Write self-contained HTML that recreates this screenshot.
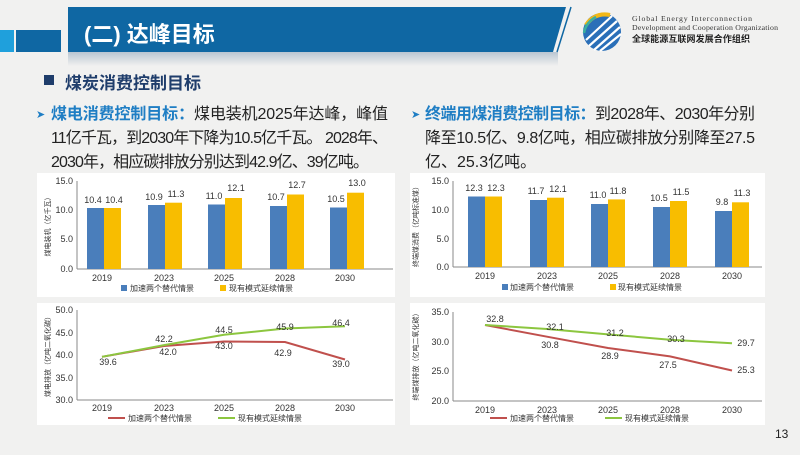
<!DOCTYPE html>
<html><head><meta charset="utf-8"><style>
body{margin:0;width:800px;height:450px;overflow:hidden;background:#f1f1f0;font-family:"Liberation Sans","Noto Sans CJK SC",sans-serif;}
</style></head><body>
<svg width="800" height="450" xmlns="http://www.w3.org/2000/svg" font-family="Liberation Sans, Noto Sans CJK SC, sans-serif">
<defs><linearGradient id="sh" x1="0" y1="0" x2="0" y2="1"><stop offset="0" stop-color="#b9c6d2"/><stop offset="1" stop-color="#f1f1f0"/></linearGradient></defs>
<rect x="68" y="52" width="490" height="14" fill="url(#sh)"/>
<rect x="0" y="30" width="14" height="22" fill="#1fa0dc"/>
<rect x="16" y="30" width="45" height="22" fill="#0f67a3"/>
<polygon points="68,7 566,7 553,52 68,52" fill="#0f67a3"/>
<line x1="557" y1="52" x2="571" y2="7" stroke="#0f67a3" stroke-width="1.5"/>
<text x="84" y="42" font-size="22" fill="#fff" font-weight="bold">(二) 达峰目标</text>
<circle cx="602" cy="32" r="19" fill="#2a6fb8"/>
<path d="M586,40 L612,16 M589,46 L617,21 M594,50 L620,27 M600,51 L621,34" stroke="#fff" stroke-width="2.2"/>
<path d="M586,25 Q595,12 610,15" stroke="#f3b818" stroke-width="4" fill="none"/>
<path d="M584,33 Q586,22 596,17" stroke="#3bb0a0" stroke-width="2.5" fill="none"/>
<text x="632" y="21" font-size="7.8" fill="#333" font-family="Liberation Serif, serif" textLength="120">Global Energy Interconnection</text>
<text x="632" y="30" font-size="7.8" fill="#333" font-family="Liberation Serif, serif" textLength="146">Development and Cooperation Organization</text>
<text x="632" y="42" font-size="9" fill="#222" font-weight="bold" textLength="118">全球能源互联网发展合作组织</text>
<rect x="44" y="75" width="10" height="10" fill="#1f3d6b"/>
<text x="65" y="89" font-size="17" fill="#1f3d6b" font-weight="bold">煤炭消费控制目标</text>
<g font-size="16" fill="#222">
<text x="36" y="118" fill="#1f7ec4" font-size="11">➤</text>
<text x="51" y="119" textLength="337"><tspan fill="#1f7ec4" font-weight="bold">煤电消费控制目标：</tspan>煤电装机2025年达峰，峰值</text>
<text x="51" y="143" textLength="337">11亿千瓦，到2030年下降为10.5亿千瓦。 2028年、</text>
<text x="51" y="167" textLength="318">2030年，相应碳排放分别达到42.9亿、39亿吨。</text>
<text x="411" y="118" fill="#1f7ec4" font-size="11">➤</text>
<text x="425" y="119" textLength="330"><tspan fill="#1f7ec4" font-weight="bold">终端用煤消费控制目标：</tspan>到2028年、2030年分别</text>
<text x="425" y="143" textLength="330">降至10.5亿、9.8亿吨，相应碳排放分别降至27.5</text>
<text x="425" y="167">亿、25.3亿吨。</text>
</g>
<rect x="37" y="173" width="358" height="124" fill="#fff"/>
<rect x="410" y="173" width="355" height="124" fill="#fff"/>
<rect x="37" y="303" width="358" height="122" fill="#fff"/>
<rect x="410" y="303" width="355" height="122" fill="#fff"/>
<g font-size="9" fill="#333">
<g text-anchor="end"><text x="73" y="184">15.0</text><text x="73" y="213">10.0</text><text x="73" y="242">5.0</text><text x="73" y="272">0.0</text></g>
<line x1="77" y1="181" x2="77" y2="269" stroke="#888"/><line x1="77" y1="269" x2="393" y2="269" stroke="#888"/>
<text transform="translate(50,225) rotate(-90)" font-size="7" text-anchor="middle">煤电装机（亿千瓦）</text>
<g fill="#4a7ebb"><rect x="87" y="208" width="17" height="61"/><rect x="148" y="205" width="17" height="64"/><rect x="208" y="204.5" width="17" height="64.5"/><rect x="270" y="206" width="17" height="63"/><rect x="330" y="207.5" width="17" height="61.5"/></g>
<g fill="#f8bd00"><rect x="104" y="208" width="17" height="61"/><rect x="165" y="202.7" width="17" height="66.3"/><rect x="225" y="198" width="17" height="71"/><rect x="287" y="194.5" width="17" height="74.5"/><rect x="347" y="192.7" width="17" height="76.3"/></g>
<g text-anchor="middle"><text x="93" y="203">10.4</text><text x="114" y="203">10.4</text><text x="154" y="200">10.9</text><text x="176" y="197">11.3</text><text x="214" y="199">11.0</text><text x="236" y="191">12.1</text><text x="276" y="200">10.7</text><text x="297" y="188">12.7</text><text x="336" y="202">10.5</text><text x="357" y="186">13.0</text>
<text x="102" y="281">2019</text><text x="164" y="281">2023</text><text x="224" y="281">2025</text><text x="285" y="281">2028</text><text x="345" y="281">2030</text></g>
<rect x="121" y="285" width="6" height="6" fill="#4a7ebb"/><text x="130" y="291" font-size="8">加速两个替代情景</text>
<rect x="220" y="285" width="6" height="6" fill="#f8bd00"/><text x="229" y="291" font-size="8">现有模式延续情景</text>
<g text-anchor="end"><text x="449" y="184">15.0</text><text x="449" y="213">10.0</text><text x="449" y="242">5.0</text><text x="449" y="270">0.0</text></g>
<line x1="453" y1="181" x2="453" y2="267" stroke="#888"/><line x1="453" y1="267" x2="762" y2="267" stroke="#888"/>
<text transform="translate(418,225) rotate(-90)" font-size="7" text-anchor="middle">终端煤消费（亿吨标准煤）</text>
<g fill="#4a7ebb"><rect x="468" y="196.5" width="17" height="70.5"/><rect x="530" y="200" width="17" height="67"/><rect x="591" y="204" width="17" height="63"/><rect x="653" y="207" width="17" height="60"/><rect x="715" y="211" width="17" height="56"/></g>
<g fill="#f8bd00"><rect x="485" y="196.5" width="17" height="70.5"/><rect x="547" y="197.7" width="17" height="69.3"/><rect x="608" y="199.4" width="17" height="67.6"/><rect x="670" y="201" width="17" height="66"/><rect x="732" y="202.3" width="17" height="64.7"/></g>
<g text-anchor="middle"><text x="474" y="191">12.3</text><text x="496" y="191">12.3</text><text x="536" y="194">11.7</text><text x="558" y="192">12.1</text><text x="598" y="198">11.0</text><text x="618" y="194">11.8</text><text x="659" y="201">10.5</text><text x="681" y="195">11.5</text><text x="722" y="205">9.8</text><text x="742" y="196">11.3</text>
<text x="485" y="279">2019</text><text x="547" y="279">2023</text><text x="608" y="279">2025</text><text x="670" y="279">2028</text><text x="732" y="279">2030</text></g>
<rect x="502" y="284" width="6" height="6" fill="#4a7ebb"/><text x="510" y="290" font-size="8">加速两个替代情景</text>
<rect x="610" y="284" width="6" height="6" fill="#f8bd00"/><text x="618" y="290" font-size="8">现有模式延续情景</text>
<g text-anchor="end"><text x="73" y="313">50.0</text><text x="73" y="336">45.0</text><text x="73" y="358">40.0</text><text x="73" y="381">35.0</text><text x="73" y="403">30.0</text></g>
<line x1="77" y1="310" x2="77" y2="400" stroke="#888"/><line x1="77" y1="400" x2="393" y2="400" stroke="#888"/>
<text transform="translate(50,355) rotate(-90)" font-size="7" text-anchor="middle">煤电排放（亿吨二氧化碳）</text>
<polyline points="102,356.8 164,346 224,341.5 285,342 345,359.5" fill="none" stroke="#c0504d" stroke-width="2"/>
<polyline points="102,356.8 164,345.1 224,334.8 285,328.5 345,326.2" fill="none" stroke="#8cc63f" stroke-width="2"/>
<g text-anchor="middle"><text x="108" y="365">39.6</text><text x="164" y="342">42.2</text><text x="168" y="355">42.0</text><text x="224" y="333">44.5</text><text x="224" y="349">43.0</text><text x="285" y="330">45.9</text><text x="283" y="356">42.9</text><text x="341" y="326">46.4</text><text x="341" y="367">39.0</text>
<text x="102" y="411">2019</text><text x="164" y="411">2023</text><text x="224" y="411">2025</text><text x="285" y="411">2028</text><text x="345" y="411">2030</text></g>
<line x1="108" y1="418" x2="125" y2="418" stroke="#c0504d" stroke-width="2"/><text x="128" y="421" font-size="8">加速两个替代情景</text>
<line x1="218" y1="418" x2="235" y2="418" stroke="#8cc63f" stroke-width="2"/><text x="238" y="421" font-size="8">现有模式延续情景</text>
<g text-anchor="end"><text x="449" y="315">35.0</text><text x="449" y="345">30.0</text><text x="449" y="374">25.0</text><text x="449" y="404">20.0</text></g>
<line x1="453" y1="312" x2="453" y2="401" stroke="#888"/><line x1="453" y1="401" x2="762" y2="401" stroke="#888"/>
<text transform="translate(418,355) rotate(-90)" font-size="7" text-anchor="middle">终端煤排放（亿吨二氧化碳）</text>
<polyline points="485,325 547,336.7 608,348 670,356.4 732,370.5" fill="none" stroke="#c0504d" stroke-width="2"/>
<polyline points="485,325 547,329 608,334.4 670,339.7 732,343.3" fill="none" stroke="#8cc63f" stroke-width="2"/>
<g text-anchor="middle"><text x="495" y="322">32.8</text><text x="555" y="330">32.1</text><text x="615" y="336">31.2</text><text x="676" y="342">30.3</text><text x="746" y="346">29.7</text><text x="550" y="348">30.8</text><text x="610" y="359">28.9</text><text x="668" y="368">27.5</text><text x="746" y="373">25.3</text>
<text x="485" y="413">2019</text><text x="547" y="413">2023</text><text x="608" y="413">2025</text><text x="670" y="413">2028</text><text x="732" y="413">2030</text></g>
<line x1="490" y1="418" x2="507" y2="418" stroke="#c0504d" stroke-width="2"/><text x="510" y="421" font-size="8">加速两个替代情景</text>
<line x1="605" y1="418" x2="622" y2="418" stroke="#8cc63f" stroke-width="2"/><text x="625" y="421" font-size="8">现有模式延续情景</text>
</g>
<text x="775" y="438" font-size="12" fill="#222">13</text>
</svg>
</body></html>
